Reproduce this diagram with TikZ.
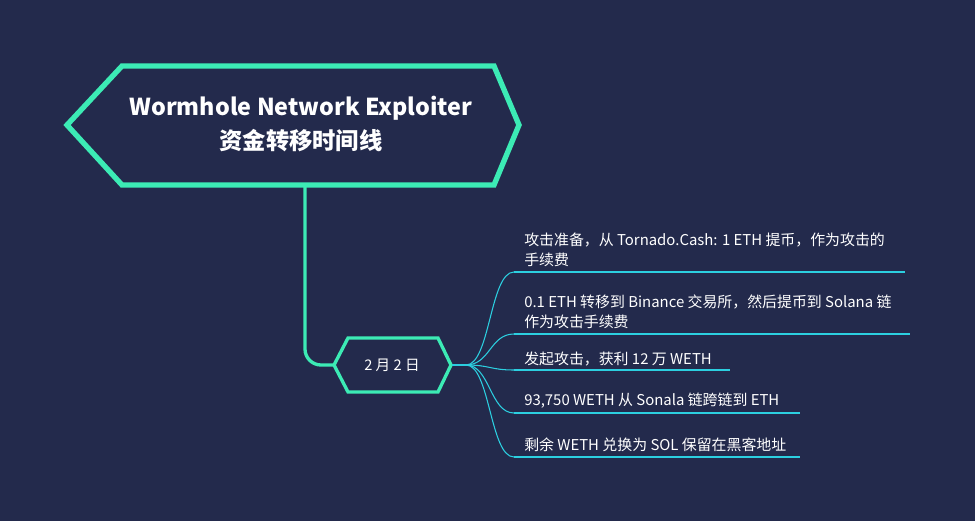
\documentclass[tikz,border=0pt]{standalone}
\usepackage{fontspec}
\setmainfont{Noto Sans CJK SC}
\definecolor{bgnavy}{HTML}{232A4C}
\definecolor{teal}{HTML}{3CEBB5}
\definecolor{branch}{HTML}{2CCFE0}
\tikzset{
  item/.style={anchor=south west,inner sep=0pt,text=white,font=\fontsize{11.2}{15}\selectfont,align=left},
  uline/.style={branch,line width=0.8pt},
  fan/.style={branch,line width=0.8pt}
}
\begin{document}
\begin{tikzpicture}[x=0.0264cm,y=-0.0264cm]
        \fill[bgnavy] (0,0) rectangle (975,521);
        \useasboundingbox (0,0) rectangle (975,521);
        % title hexagon
        \draw[teal,line width=4pt,fill=bgnavy] (67,125)--(122,66)--(494,66)--(519,125)--(494,185)--(122,185)--cycle;
        \node[text=white,font=\fontsize{17.5}{25}\selectfont\bfseries,align=center] (title) at (301,124) {Wormhole Network Exploiter\\资金转移时间线};
        \coordinate (tb) at (305,187);
        % date node
        \draw[teal,line width=2.5pt,fill=bgnavy] (334,365)--(348,338)--(438,338)--(451,365)--(438,392)--(348,392)--cycle;
        \node[text=white,font=\fontsize{11}{14}\selectfont] (date) at (392,365) {2 月 2 日};
        \coordinate (dl) at (333,365);
        \coordinate (dr) at (452,365);
        \draw[teal,line width=2.5pt,rounded corners=12pt] (tb)--(305,365)--(dl);
        % items
        \node[item] (i1) at (524,267) {攻击准备，从 Tornado.Cash: 1 ETH 提币，作为攻击的\\手续费};
        \node[item] (i2) at (524,329) {0.1 ETH 转移到 Binance 交易所，然后提币到 Solana 链\\作为攻击手续费};
        \node[item] (i3) at (524,366) {发起攻击，获利 12 万 WETH};
        \node[item] (i4) at (524,409) {93,750 WETH 从 Sonala 链跨链到 ETH};
        \node[item] (i5) at (524,452) {剩余 WETH 兑换为 SOL 保留在黑客地址};
        \foreach \y/\e in {272/905,334/910,370/730,413/800,457/800}{
          \draw[uline] (514,\y)--(\e,\y);
          \draw[fan] (dr)--(466,365) .. controls (490,365) and (490,\y) .. (514,\y);
        }
\end{tikzpicture}
\end{document}
